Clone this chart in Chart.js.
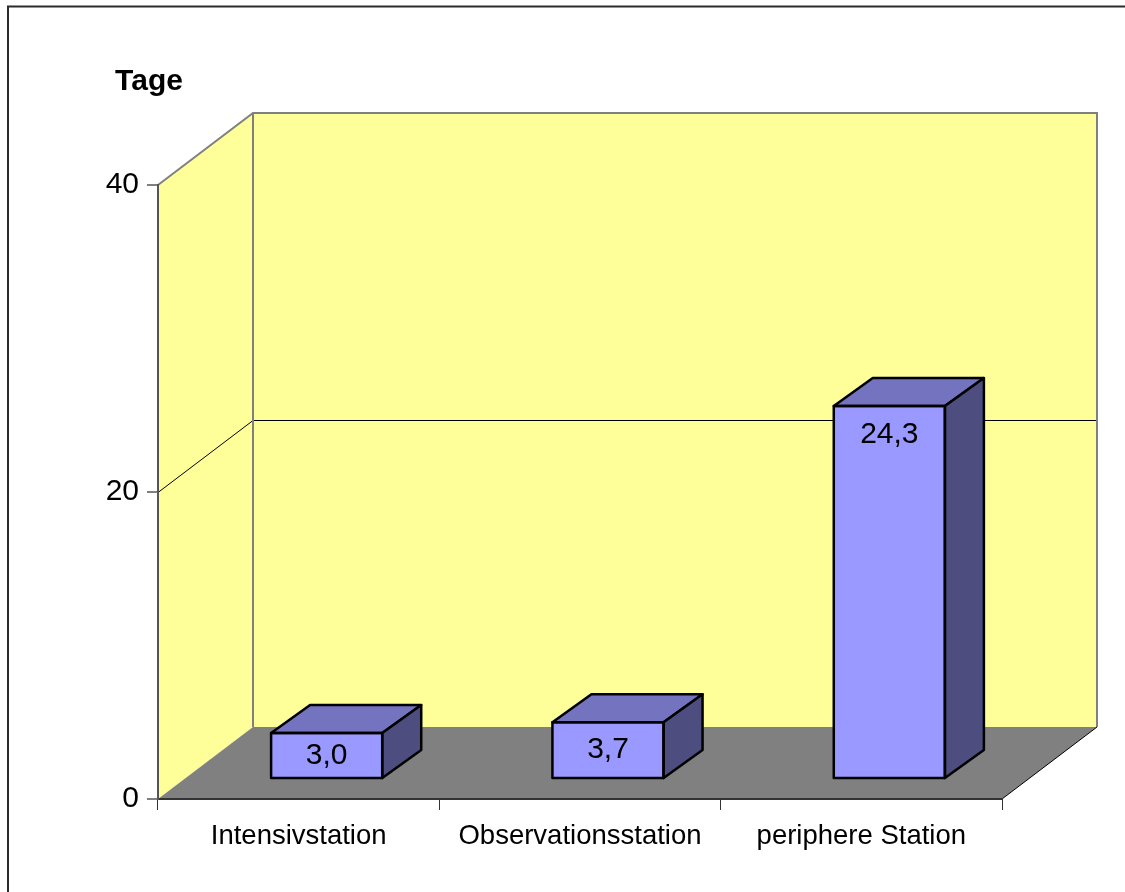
<!DOCTYPE html>
<html>
<head>
<meta charset="utf-8">
<title>Verweildauer nach Station</title>
<script src="https://cdn.jsdelivr.net/npm/chart.js@4/dist/chart.umd.min.js"></script>
<style>
  html, body { margin: 0; padding: 0; background: #fff; overflow: hidden; }
  canvas { display: block; }
</style>
</head>
<body>
<canvas id="chart" width="1125" height="892"></canvas>
<script>
// Mean length of stay (days) per ward
const categories = ['Intensivstation', 'Observationsstation', 'periphere Station'];
const verweildauer = [3.0, 3.7, 24.3];
const yTicks = [0, 20, 40];
const axisTitle = 'Tage';

const FONT = '"Liberation Sans", Arial, Helvetica, sans-serif';

// 3D projection offsets of the chart box and of each column
const WALL = { dx: 95, dy: 72 };
const BAR_OFFSET = { dx: 28, dy: 20 };
const BAR_DEPTH = { dx: 39, dy: 28 };

const fmt = v => v.toFixed(1).replace('.', ',');

function poly(ctx, pts) {
  ctx.beginPath();
  pts.forEach(([px, py], i) => (i ? ctx.lineTo(px, py) : ctx.moveTo(px, py)));
  ctx.closePath();
}

const box3d = {
  id: 'box3d',
  beforeDraw(chart) {
    const { ctx, chartArea: a, scales: { y } } = chart;
    const L = a.left, R = a.right, T = a.top, B = a.bottom;
    const dx = WALL.dx, dy = WALL.dy;
    ctx.save();
    ctx.fillStyle = '#ffffff';
    ctx.fillRect(0, 0, chart.width, chart.height);

    // side wall and back wall
    ctx.fillStyle = '#FFFF99';
    poly(ctx, [[L, T], [L + dx, T - dy], [L + dx, B - dy], [L, B]]);
    ctx.fill();
    poly(ctx, [[L + dx, T - dy], [R + dx, T - dy], [R + dx, B - dy], [L + dx, B - dy]]);
    ctx.fill();

    // floor
    ctx.fillStyle = '#808080';
    poly(ctx, [[L, B], [R, B], [R + dx, B - dy], [L + dx, B - dy]]);
    ctx.fill();

    // inner gridlines running over the walls
    ctx.strokeStyle = '#000000';
    ctx.lineWidth = 1;
    yTicks.slice(1, -1).forEach(v => {
      const py = Math.round(y.getPixelForValue(v)) + 0.5;
      ctx.beginPath();
      ctx.moveTo(L, py);
      ctx.lineTo(L + dx, py - dy);
      ctx.lineTo(R + dx, py - dy);
      ctx.stroke();
    });

    // wall edges
    ctx.strokeStyle = '#808080';
    ctx.lineWidth = 2;
    ctx.beginPath();
    ctx.moveTo(L, T);
    ctx.lineTo(L + dx, T - dy);
    ctx.lineTo(R + dx, T - dy);
    ctx.lineTo(R + dx, B - dy);
    ctx.moveTo(L + dx, T - dy);
    ctx.lineTo(L + dx, B - dy);
    ctx.stroke();

    // floor right edge
    ctx.strokeStyle = '#000000';
    ctx.lineWidth = 1;
    ctx.beginPath();
    ctx.moveTo(R, B);
    ctx.lineTo(R + dx, B - dy);
    ctx.stroke();
    ctx.restore();
  },
  beforeDatasetsDraw(chart) {
    chart.ctx.save();
    chart.ctx.translate(BAR_OFFSET.dx, -BAR_OFFSET.dy);
  },
  afterDatasetsDraw(chart) {
    const ctx = chart.ctx;
    const meta = chart.getDatasetMeta(0);
    const values = chart.data.datasets[0].data;
    const bdx = BAR_DEPTH.dx, bdy = BAR_DEPTH.dy;
    ctx.lineWidth = 2.5;
    ctx.lineJoin = 'round';
    ctx.strokeStyle = '#000000';
    meta.data.forEach((bar, i) => {
      const { x, y, base, width } = bar.getProps(['x', 'y', 'base', 'width'], true);
      const l = x - width / 2, r = x + width / 2;
      // top face
      ctx.fillStyle = '#7373BF';
      poly(ctx, [[l, y], [r, y], [r + bdx, y - bdy], [l + bdx, y - bdy]]);
      ctx.fill();
      ctx.stroke();
      // side face
      ctx.fillStyle = '#4D4D80';
      poly(ctx, [[r, y], [r + bdx, y - bdy], [r + bdx, base - bdy], [r, base]]);
      ctx.fill();
      ctx.stroke();
      // front outline
      ctx.strokeRect(l, y, width, base - y);
      // value label
      ctx.fillStyle = '#000000';
      ctx.font = '30px ' + FONT;
      ctx.textAlign = 'center';
      ctx.textBaseline = 'middle';
      const off = Math.min(29, (base - y) / 2);
      ctx.fillText(fmt(values[i]), x, y + off);
    });
    ctx.restore();
  },
  afterDraw(chart) {
    const ctx = chart.ctx;
    ctx.save();
    ctx.fillStyle = '#000000';
    ctx.font = 'bold 30px ' + FONT;
    ctx.textAlign = 'center';
    ctx.textBaseline = 'middle';
    ctx.fillText(axisTitle, 149, 82);
    // outer frame
    ctx.strokeStyle = '#2b2b2b';
    ctx.lineWidth = 2;
    ctx.strokeRect(8, 6.5, 1400, 1200);
    ctx.restore();
  }
};

new Chart(document.getElementById('chart'), {
  type: 'bar',
  data: {
    labels: categories,
    datasets: [{
      data: verweildauer,
      backgroundColor: '#9999FF',
      borderColor: '#000000',
      borderWidth: 0,
      categoryPercentage: 1,
      barPercentage: 0.395,
      clip: false
    }]
  },
  options: {
    responsive: false,
    animation: false,
    devicePixelRatio: 1,
    layout: { padding: { top: 185, right: 123, bottom: 0, left: 0 } },
    plugins: { legend: { display: false }, tooltip: { enabled: false }, title: { display: false } },
    scales: {
      x: {
        afterFit(scale) { scale.height = 93; },
        grid: { offset: true, drawOnChartArea: false, drawTicks: true, tickLength: 11, color: '#333333', lineWidth: 1 },
        border: { display: true, color: '#333333', width: 2 },
        ticks: { color: '#000000', font: { family: FONT, size: 27.5 }, padding: 10, maxRotation: 0, autoSkip: false }
      },
      y: {
        min: yTicks[0],
        max: yTicks[yTicks.length - 1],
        afterFit(scale) { scale.width = 158; },
        afterBuildTicks(scale) { scale.ticks = yTicks.map(v => ({ value: v })); },
        grid: { drawOnChartArea: false, drawTicks: true, tickLength: 11, color: '#808080', lineWidth: 2 },
        border: { display: true, color: '#555555', width: 2 },
        ticks: { color: '#000000', font: { family: FONT, size: 30 }, padding: 8, callback: v => String(v) }
      }
    }
  },
  plugins: [box3d]
});
</script>
</body>
</html>
